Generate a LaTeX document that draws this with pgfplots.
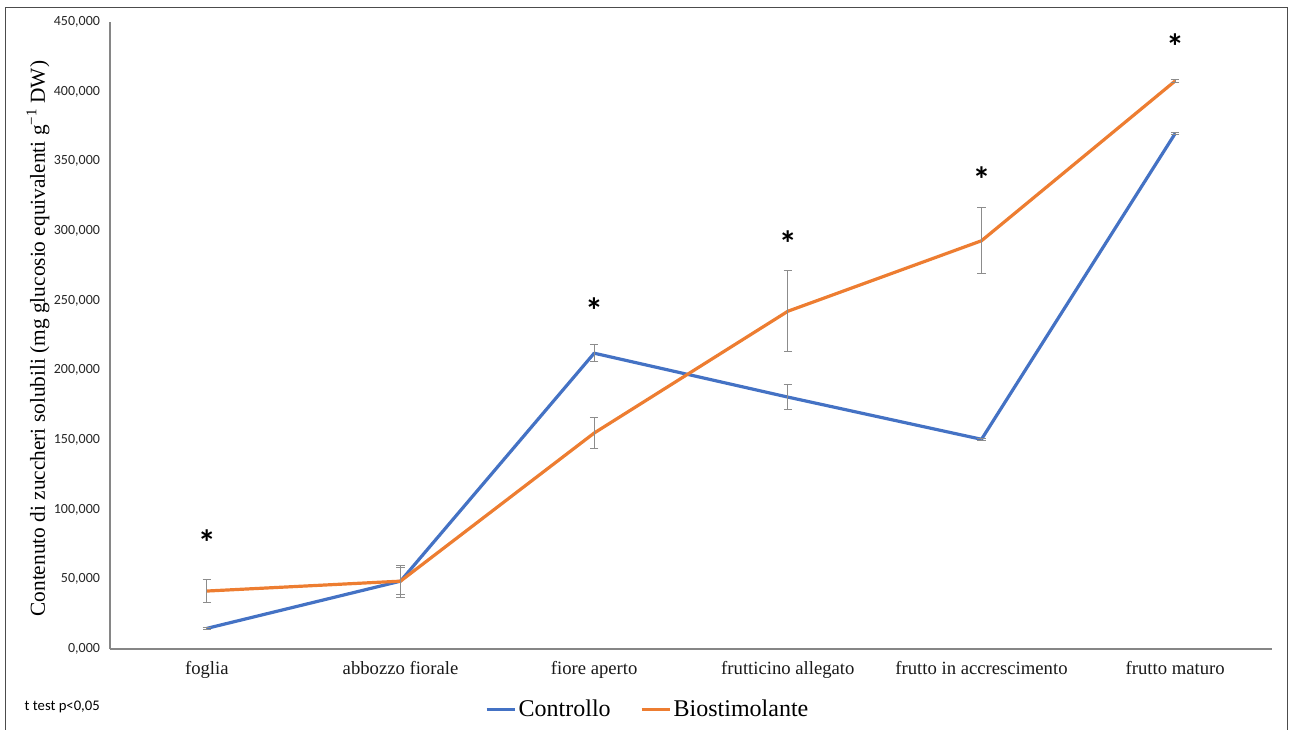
\documentclass[border=0pt]{standalone}
\usepackage{pgfplots}
\pgfplotsset{compat=1.18}
\usepackage{fontspec}
\setmainfont{Liberation Serif}
\newfontfamily\calibri{Carlito}
\definecolor{cblue}{HTML}{4472C4}
\definecolor{corange}{HTML}{ED7D31}
\definecolor{axgray}{HTML}{868686}
\definecolor{ebgray}{HTML}{8C8C8C}
\begin{document}
\begin{tikzpicture}
\begin{axis}[
  at={(0,0)}, anchor=south west,
  scale only axis, width=871.5pt, height=470.25pt,
  xmin=-0.5, xmax=5.5, ymin=0, ymax=450,
  axis x line*=bottom, axis y line*=left,
  axis line style={axgray, line width=1pt},
  xtick={0,1,2,3,4,5},
  xticklabels={foglia, abbozzo fiorale, fiore aperto, frutticino allegato, frutto in accrescimento, frutto maturo},
  xticklabel style={font=\fontsize{14}{16}\selectfont, text=black!90, yshift=-6pt},
  ytick={0,50,...,450},
  major tick length=0pt,
  yticklabel style={font=\calibri\fontsize{10.5}{12}\selectfont, text=black!85, xshift=-4pt,
    /pgf/number format/.cd, fixed, fixed zerofill, precision=3, use comma, 1000 sep={}, assume math mode=true},
  ylabel={Contenuto di zuccheri solubili (mg glucosio equivalenti g\textsuperscript{−1} DW)},
  ylabel style={font=\fontsize{16}{18}\selectfont, at={(axis description cs:-0.062,0.495)}, anchor=center, rotate=0},
  legend style={at={(axis description cs:0.463,-0.0957)}, anchor=center, draw=none, fill=none,
    legend columns=2, font=\fontsize{18}{20}\selectfont,
    /tikz/every even column/.append style={column sep=20pt}},
  legend image code/.code={\draw[#1, line width=2.25pt] (0pt,0pt) -- (21pt,0pt);},
  clip=false,
]
\addplot[cblue, line width=2.4pt, line join=round, mark=none,
  error bars/.cd, y dir=both, y explicit,
  error bar style={ebgray, line width=0.75pt},
  error mark options={ebgray, line width=0.75pt, mark size=3.2pt, rotate=90}]
  coordinates {
  (0,14.8) +- (0,0.8)
  (1,48.7) +- (0,9.5)
  (2,212.3) +- (0,6.2)
  (3,180.8) +- (0,9.0)
  (4,150.5) +- (0,0.8)
  (5,370.0) +- (0,0.8)
  };
\addlegendentry{Controllo}
\addplot[corange, line width=2.4pt, line join=round, mark=none,
  error bars/.cd, y dir=both, y explicit,
  error bar style={ebgray, line width=0.75pt},
  error mark options={ebgray, line width=0.75pt, mark size=3.2pt, rotate=90}]
  coordinates {
  (0,41.6) +- (0,8.2)
  (1,48.7) +- (0,11.5)
  (2,155.0) +- (0,11.2)
  (3,242.4) +- (0,29.0)
  (4,293.0) +- (0,23.6)
  (5,407.7) +- (0,0.8)
  };
\addlegendentry{Biostimolante}
\addplot[draw=none, mark=none, forget plot, nodes near coords={*},
  every node near coord/.style={anchor=center, inner sep=0pt, font=\calibri\bfseries\fontsize{27}{27}\selectfont}]
  coordinates {(0,76) (2,243) (3,291) (4,337) (5,432)};
\end{axis}
\node[anchor=west, font=\calibri\fontsize{11}{13}\selectfont] at (-67.5pt,-43.5pt) {t test p<0,05};
\draw[black!70, line width=0.75pt] (-78pt,-70pt) -- (-78pt,480.75pt) -- (882.75pt,480.75pt) -- (882.75pt,-70pt);
\pgfresetboundingbox
\useasboundingbox (-82.5pt,-60pt) rectangle (888pt,486.75pt);
\end{tikzpicture}
\end{document}
